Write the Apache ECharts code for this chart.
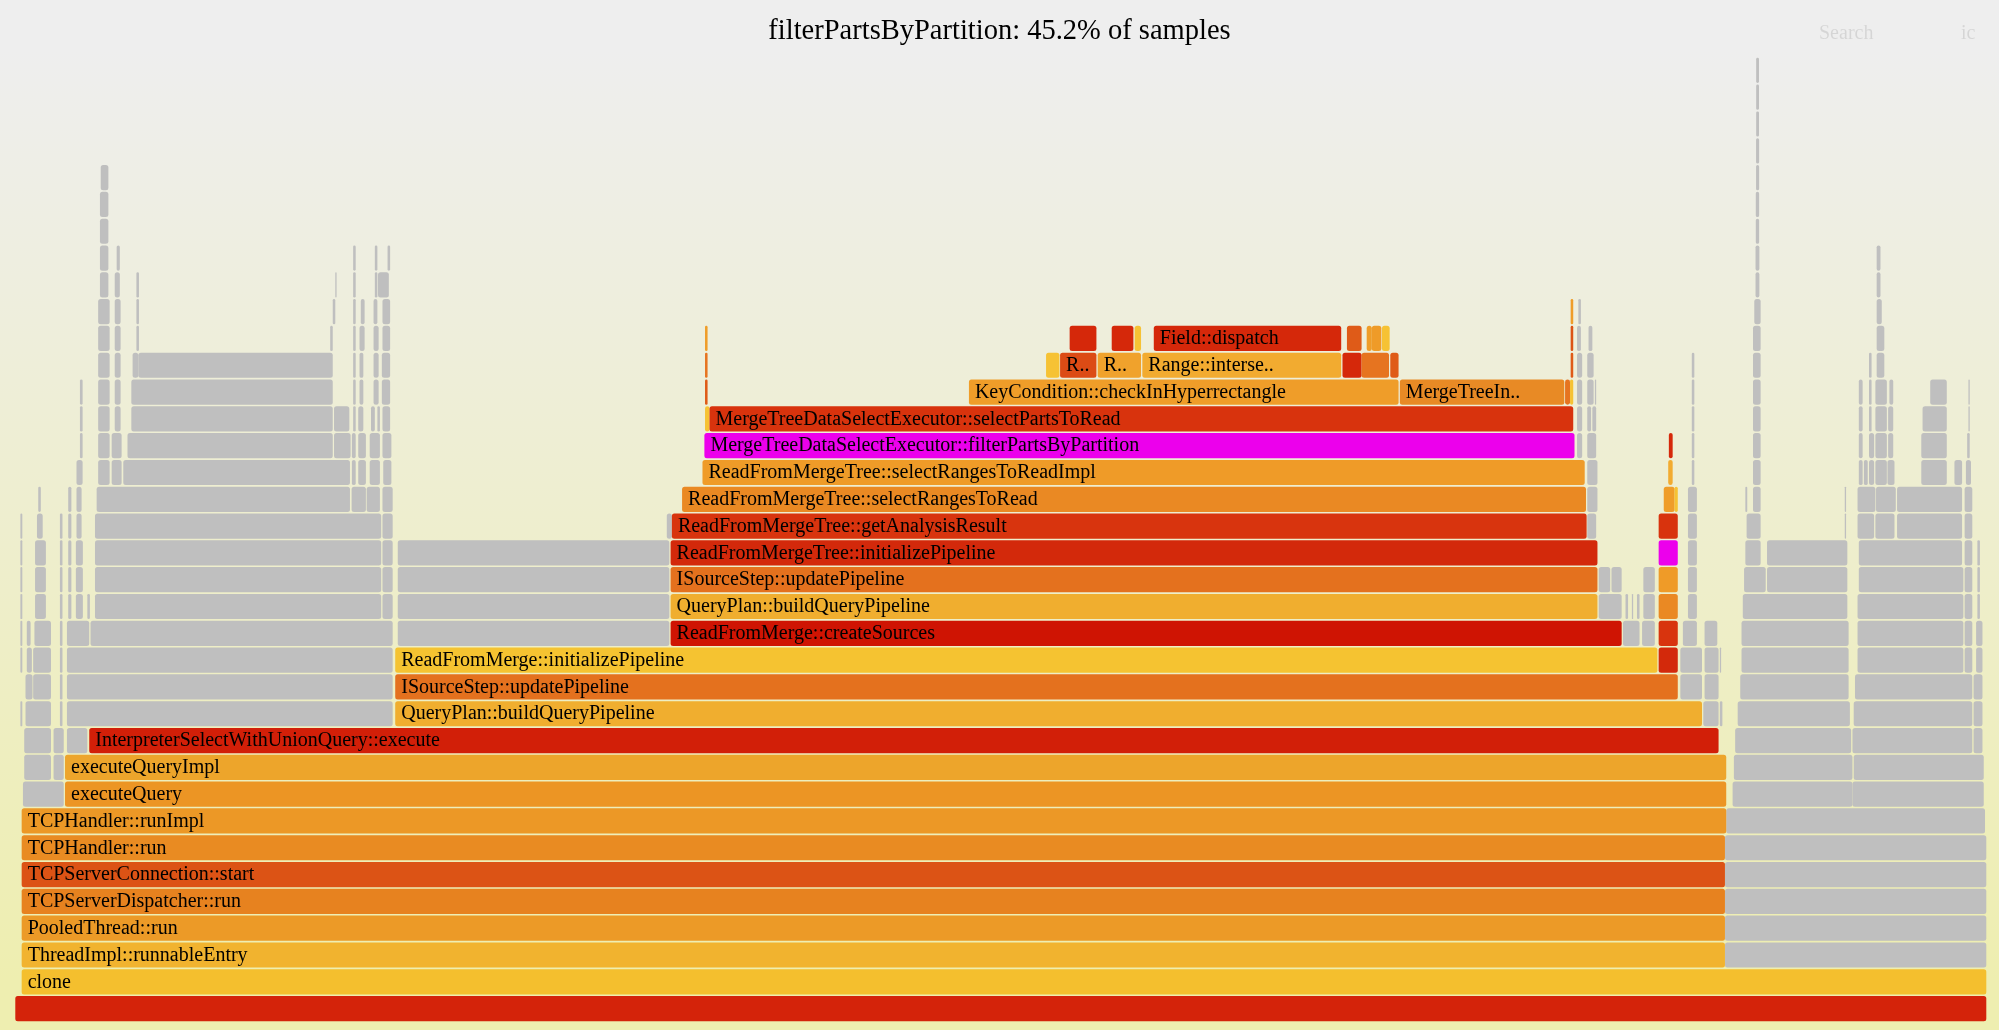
<!DOCTYPE html>
<html>
<head>
<meta charset="utf-8">
<script src="https://cdn.jsdelivr.net/npm/echarts@6/dist/echarts.min.js"></script>
<style>
  html, body { margin: 0; padding: 0; }
  body { background: linear-gradient(to bottom, #eeeeee 5%, #eeeeb0 95%); }
  #chart { width: 1999px; height: 1030px; }
</style>
</head>
<body>
<div id="chart"></div>
<script>
// flame graph — search highlight for filterPartsByPartition

const TITLE = 'filterPartsByPartition: 45.2% of samples';
const TOTAL_SAMPLES = 1546;
const MAX_DEPTH = 35;

// frames on the highlighted path: [depth, start, end, name, tone]
const HOT = [
  [0, 0, 1546, '', 0],
  [1, 5, 1546, 'clone', 1],
  [2, 5, 1341, 'ThreadImpl::runnableEntry', 2],
  [3, 5, 1341, 'PooledThread::run', 3],
  [4, 5, 1341, 'TCPServerDispatcher::run', 4],
  [5, 5, 1341, 'TCPServerConnection::start', 5],
  [6, 5, 1341, 'TCPHandler::run', 6],
  [7, 5, 1342, 'TCPHandler::runImpl', 7],
  [8, 39, 1342, 'executeQuery', 8],
  [9, 39, 1342, 'executeQueryImpl', 9],
  [10, 58, 1336, 'InterpreterSelectWithUnionQuery::execute', 10],
  [11, 298, 1323, 'QueryPlan::buildQueryPipeline', 11],
  [12, 298, 1304, 'ISourceStep::updatePipeline', 12],
  [13, 298, 1288, 'ReadFromMerge::initializePipeline', 13],
  [13, 1289, 1304, 'ReadFromMergeTree::initializePipeline', 15],
  [14, 514, 1260, 'ReadFromMerge::createSources', 14],
  [14, 1289, 1304, 'ReadFromMergeTree::getAnalysisResult', 16],
  [15, 514, 1241, 'QueryPlan::buildQueryPipeline', 11],
  [15, 1289, 1304, 'ReadFromMergeTree::selectRangesToRead', 17],
  [16, 514, 1241, 'ISourceStep::updatePipeline', 12],
  [16, 1289, 1304, 'ReadFromMergeTree::selectRangesToReadImpl', 18],
  [17, 514, 1241, 'ReadFromMergeTree::initializePipeline', 15],
  [17, 1289, 1304, 'MergeTreeDataSelectExecutor::filterPartsByPartition', 19],
  [18, 515, 1232.5, 'ReadFromMergeTree::getAnalysisResult', 16],
  [18, 1289, 1304, 'MergeTreeDataSelectExecutor::selectPartsToRead', 20],
  [19, 523, 1232, 'ReadFromMergeTree::selectRangesToRead', 17],
  [19, 1293, 1301.5, 'KeyCondition::checkInHyperrectangle', 21],
  [19, 1301.5, 1304, 'KeyCondition::mayBeTrueInRange', 27],
  [20, 539, 1231, 'ReadFromMergeTree::selectRangesToReadImpl', 18],
  [20, 1296.5, 1300, 'Range::intersectsRange', 23],
  [21, 540.5, 1223, 'MergeTreeDataSelectExecutor::filterPartsByPartition', 19],
  [21, 1297, 1300, 'Field::dispatch', 26],
  [22, 541, 544.5, 'PartitionPruner::canBePruned', 27],
  [22, 544.5, 1222, 'MergeTreeDataSelectExecutor::selectPartsToRead', 20],
  [23, 541, 543, 'KeyCondition::checkInHyperrectangle', 29],
  [24, 541, 543, 'Range::intersectsRange', 28],
  [25, 541, 543, 'Field::dispatch', 21],
  [23, 748, 1085, 'KeyCondition::checkInHyperrectangle', 21],
  [23, 1086, 1215, 'MergeTreeIndexConditionMinMax::mayBeTrueOnGranule', 22],
  [23, 1215.6, 1219.5, 'KeyCondition::mayBeTrueInRange', 28],
  [23, 1219.5, 1222, 'KeyCondition::checkInRange', 27],
  [24, 1220, 1222, 'Range::intersectsRange', 29],
  [25, 1220, 1222, 'Field::dispatch', 5],
  [26, 1220, 1222, 'accurateLess', 21],
  [24, 808.5, 819, 'Range::shrinkToIncludedIfPossible', 27],
  [24, 819.5, 848, 'Range::rightThan', 24],
  [24, 849, 883, 'Range::leftThan', 25],
  [24, 884, 1040, 'Range::intersectsRange', 23],
  [24, 1041, 1056, 'Field::operator<', 26],
  [24, 1056, 1077.5, 'Field::Field', 28],
  [24, 1078.5, 1085, 'Field::~Field', 29],
  [25, 827, 848, 'Field::dispatch', 26],
  [25, 860, 877, 'Field::dispatch', 26],
  [25, 878, 883, 'FieldVisitorAccurateLess', 27],
  [25, 893, 1040, 'Field::dispatch', 26],
  [25, 1044.5, 1056, 'FieldVisitorAccurateLess', 29],
  [25, 1060, 1064, 'Field::create', 21],
  [25, 1064, 1071.5, 'Field::assign', 18],
  [25, 1072, 1078, 'Field::destroy', 27],
];

// frames off the highlighted path, drawn grey: [depth, start, end]
const COLD = [
  // left side
  [8, 6, 38],
  [9, 7, 28], [9, 30, 38],
  [10, 7, 28], [10, 30, 38], [10, 40.5, 56.5],
  [11, 4, 5.5], [11, 8, 28], [11, 35, 37], [11, 40.5, 296],
  [12, 8, 13.5], [12, 14, 28], [12, 35, 37], [12, 40.5, 296],
  [13, 4, 5.5], [13, 9, 13], [13, 14, 28], [13, 35, 37], [13, 40.5, 296],
  [14, 4, 5.5], [14, 9, 12], [14, 15, 28], [14, 35, 37], [14, 40.5, 58], [14, 59, 296], [14, 300, 513],
  [15, 4, 5.5], [15, 15.5, 24], [15, 35, 37], [15, 41.5, 44], [15, 47.5, 53], [15, 56.5, 58.5], [15, 62.5, 287], [15, 288, 296], [15, 300, 513],
  [16, 4, 5.5], [16, 15.5, 24], [16, 35, 37], [16, 41.5, 44], [16, 47.5, 53], [16, 62.5, 287], [16, 288, 296], [16, 300, 513],
  [17, 4, 5.5], [17, 15.5, 24], [17, 35, 37], [17, 41.5, 44], [17, 47.5, 53], [17, 62.5, 287], [17, 288, 296], [17, 300, 513],
  [18, 4, 5.5], [18, 17, 21.5], [18, 35, 37], [18, 41.5, 44], [18, 48, 52], [18, 62.5, 287], [18, 288, 296], [18, 511, 515],
  [19, 18, 20], [19, 41.5, 44], [19, 48, 52], [19, 63.8, 262.5], [19, 263.8, 275], [19, 275.6, 286], [19, 288, 296],
  [20, 48, 52.8], [20, 65, 74], [20, 75.6, 83.4], [20, 84.7, 262.5], [20, 264, 267], [20, 269, 275], [20, 278, 286], [20, 288.6, 295],
  [21, 50.7, 52.8], [21, 65, 74], [21, 75.6, 83.4], [21, 88, 249], [21, 250, 263], [21, 264, 267], [21, 269, 275], [21, 278, 286], [21, 288, 295],
  [22, 50.7, 52.8], [22, 65, 74], [22, 78, 82.6], [22, 91, 249], [22, 250, 262], [22, 265, 267], [22, 269, 273], [22, 279, 282], [22, 284, 286], [22, 288, 294],
  [23, 50.7, 52.8], [23, 65, 74], [23, 78, 82.6], [23, 91, 249], [23, 265, 267], [23, 270, 273], [23, 281, 285], [23, 287.5, 294],
  [24, 65, 74], [24, 78, 82.6], [24, 92, 96.5], [24, 96.5, 249], [24, 265, 267], [24, 270, 273], [24, 281, 285], [24, 287.5, 294],
  [25, 65, 74], [25, 78, 82.6], [25, 95, 97], [25, 247, 249], [25, 265, 267], [25, 270, 274], [25, 281, 285], [25, 288, 294],
  [26, 65, 74], [26, 78, 82.6], [26, 95, 97], [26, 249, 251], [26, 265, 267], [26, 271, 274], [26, 281, 284], [26, 288, 294],
  [27, 66.4, 73], [27, 78, 82], [27, 95, 97], [27, 251, 252], [27, 265, 267], [27, 282, 284], [27, 284.5, 293],
  [28, 66.4, 73], [28, 79.5, 82], [28, 265, 267], [28, 282, 284], [28, 292, 294],
  [29, 66.4, 73], [30, 66.4, 73], [31, 67, 73],
  // between the two main stacks
  [11, 1324, 1336], [11, 1337, 1339],
  [12, 1306, 1323], [12, 1325, 1336],
  [13, 1306, 1323], [13, 1325, 1336], [13, 1337, 1338],
  [14, 1261, 1274], [14, 1276, 1286], [14, 1308, 1319], [14, 1325, 1335],
  [15, 1242, 1260], [15, 1263, 1265], [15, 1268, 1269], [15, 1272, 1274], [15, 1277, 1286], [15, 1312, 1319],
  [16, 1242, 1251], [16, 1252, 1260], [16, 1277, 1286], [16, 1312, 1319],
  [17, 1312, 1319],
  [18, 1233, 1240], [18, 1312, 1319],
  [19, 1233, 1241], [19, 1312, 1319],
  [20, 1233, 1241], [20, 1315, 1317],
  [21, 1225, 1229], [21, 1233, 1240], [21, 1315, 1317],
  [22, 1225, 1229], [22, 1233, 1236], [22, 1237, 1240], [22, 1315, 1317],
  [23, 1225, 1229], [23, 1233, 1238], [23, 1239, 1240], [23, 1315, 1317],
  [24, 1225, 1229], [24, 1233, 1238], [24, 1315, 1317],
  [25, 1225, 1228], [25, 1234, 1237],
  [26, 1226, 1228],
  // right side
  [2, 1341, 1546], [3, 1341, 1546], [4, 1341, 1546], [5, 1341, 1546], [6, 1341, 1546],
  [7, 1342, 1545],
  [8, 1347, 1441], [8, 1441, 1544],
  [9, 1348, 1441], [9, 1442, 1544],
  [10, 1349, 1440], [10, 1441, 1535], [10, 1536, 1543],
  [11, 1351, 1439], [11, 1442, 1535], [11, 1536, 1543],
  [12, 1353, 1438], [12, 1443, 1535], [12, 1536, 1543],
  [13, 1354, 1438], [13, 1445, 1528], [13, 1529, 1535], [13, 1538, 1543],
  [14, 1354, 1438], [14, 1445, 1528], [14, 1529, 1535], [14, 1538, 1543],
  [15, 1355, 1437], [15, 1445, 1528], [15, 1529, 1535], [15, 1539, 1541],
  [16, 1356, 1373], [16, 1374, 1437], [16, 1446, 1528], [16, 1529, 1535], [16, 1539, 1541],
  [17, 1357, 1369], [17, 1374, 1437], [17, 1446, 1527], [17, 1529, 1535], [17, 1539, 1541],
  [18, 1358, 1369], [18, 1435, 1436], [18, 1445, 1458], [18, 1459, 1474], [18, 1476, 1527], [18, 1529, 1535],
  [19, 1357, 1358.5], [19, 1363, 1369], [19, 1435, 1436], [19, 1445, 1459], [19, 1459.5, 1475], [19, 1476, 1527], [19, 1529, 1535],
  [20, 1363, 1369], [20, 1446, 1449], [20, 1450, 1453], [20, 1454, 1458], [20, 1459, 1468], [20, 1468.5, 1474], [20, 1495, 1515], [20, 1521, 1527], [20, 1530, 1534],
  [21, 1363, 1369], [21, 1446, 1449], [21, 1454, 1458], [21, 1459, 1468], [21, 1469, 1473], [21, 1495, 1515], [21, 1531, 1533],
  [22, 1363, 1369], [22, 1446, 1449], [22, 1454, 1456], [22, 1459, 1468], [22, 1469, 1473], [22, 1496, 1515], [22, 1532, 1533],
  [23, 1363, 1369], [23, 1446, 1449], [23, 1454, 1456], [23, 1459, 1468], [23, 1470, 1473], [23, 1502, 1515], [23, 1532, 1533],
  [24, 1363, 1369], [24, 1454, 1456], [24, 1460, 1466],
  [25, 1363, 1369], [25, 1460, 1466],
  [26, 1364, 1369], [26, 1460, 1464],
  [27, 1365, 1368], [27, 1460, 1463],
  [28, 1365, 1368], [28, 1460, 1463],
  [29, 1365.2, 1367.8], [30, 1365.2, 1367.8], [31, 1365.4, 1367.8], [32, 1365.4, 1367.8],
  [33, 1365.5, 1367.7], [34, 1365.5, 1367.7], [35, 1365.5, 1367.7],
];

// hot palette, indexed by the tone column of HOT
const PALETTE = [
  '#d4230a', '#f4bf2e', '#f1b32f', '#ec9a27', '#e7821f', '#dc5315', '#e98b22', '#ec9826',
  '#ec9524', '#eda52b', '#d21f08', '#f0ae2f', '#e4711e', '#f5c331', '#cf1403', '#d3290b',
  '#d8340e', '#ea8923', '#ef9b28', '#ec00ec', '#d8330d', '#ef9d29', '#e88a25', '#f2ab30',
  '#dc4b15', '#f0a22c', '#d5280a', '#f6c234', '#e67420', '#df5b18',
];
const GREY = '#bfbfbf';
const FONT = "'Liberation Serif', 'Times New Roman', serif";
const CHAR_PX = 12; // flamegraph-style label budget per character

function fitLabel(name, px) {
  const chars = Math.floor(px / CHAR_PX);
  if (!name || chars < 3) return '';
  return name.length <= chars ? name : name.slice(0, chars - 2) + '..';
}

function frameRenderer(list, labelled) {
  return (params, api) => {
    const f = list[params.dataIndex];
    const a = api.coord([f[1], f[0]]);
    const b = api.coord([f[2], f[0]]);
    const h = api.size([0, 1])[1] - 1.6;
    const w = Math.max(b[0] - a[0], 0.8);
    const r = Math.min(2.5, w / 2);
    const children = [{
      type: 'rect',
      shape: { x: a[0], y: a[1] - h / 2, width: w, height: h, r },
      style: { fill: labelled ? PALETTE[f[4]] : GREY },
    }];
    const text = labelled ? fitLabel(f[3], w) : '';
    if (text) {
      children.push({
        type: 'text',
        style: {
          x: a[0] + 6, y: a[1] + 0.5, text,
          fill: '#000', font: `20px ${FONT}`,
          align: 'left', verticalAlign: 'middle',
        },
      });
    }
    return { type: 'group', children };
  };
}

const chart = echarts.init(document.getElementById('chart'), null, { renderer: 'canvas' });
chart.setOption({
  animation: false,
  backgroundColor: 'transparent',
  title: {
    text: TITLE, left: 'center', top: 12,
    textStyle: { fontFamily: FONT, fontSize: 28.5, fontWeight: 'normal', color: '#000' },
  },
  graphic: [
    { type: 'text', left: 1819, top: 24, style: { text: 'Search', font: `20px ${FONT}`, fill: 'rgba(0,0,0,0.1)' } },
    { type: 'text', left: 1961, top: 24, style: { text: 'ic', font: `20px ${FONT}`, fill: 'rgba(0,0,0,0.1)' } },
  ],
  grid: { left: 15.3, right: 12.7, top: 57, bottom: 8 },
  xAxis: { type: 'value', min: 0, max: TOTAL_SAMPLES, show: false },
  yAxis: { type: 'value', min: -0.5, max: MAX_DEPTH + 0.5, show: false },
  series: [
    {
      type: 'custom', silent: true,
      renderItem: frameRenderer(COLD, false),
      encode: { x: [1, 2], y: 0 },
      data: COLD.map(f => [f[0], f[1], f[2]]),
    },
    {
      type: 'custom', silent: true,
      renderItem: frameRenderer(HOT, true),
      encode: { x: [1, 2], y: 0 },
      data: HOT.map(f => [f[0], f[1], f[2]]),
    },
  ],
});
</script>
</body>
</html>
